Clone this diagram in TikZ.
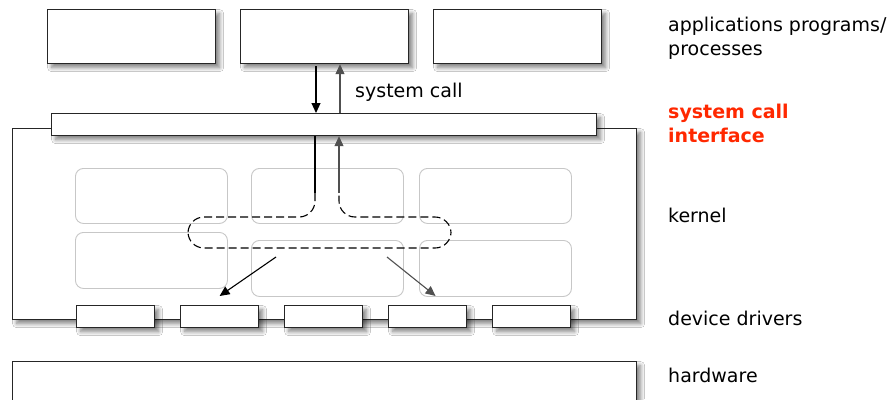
\documentclass[tikz,border=0pt]{standalone}
\usepackage{fontspec}
\setmainfont{DejaVu Sans}
\usetikzlibrary{arrows.meta,shadows.blur,calc}
\definecolor{redlab}{RGB}{255,40,0}
\definecolor{darkarr}{RGB}{80,80,80}
\begin{document}
\begin{tikzpicture}[x=1pt,y=-1pt,
  box/.style={draw=black!85, line width=1.2pt, fill=white, inner sep=0pt, anchor=north west,
    blur shadow={shadow xshift=4pt, shadow yshift=-4pt, shadow blur steps=10, shadow blur radius=4pt, shadow opacity=50}},
  innerbox/.style={draw=black!22, line width=0.9pt, rounded corners=8pt, inner sep=0pt, anchor=north west,
    minimum width=152pt},
  drv/.style={box, minimum width=78pt, minimum height=22pt},
  arr/.style={line width=1.1pt, -{Triangle[length=10pt,width=9pt]}},
  garr/.style={line width=1.1pt, draw=darkarr, -{Triangle[length=10pt,width=9pt,fill=darkarr]}},
  lab/.style={font=\fontsize{19}{24}\selectfont, inner sep=0pt, anchor=base west, align=left},
]
\fill[white] (0,0) rectangle (891,399);
\useasboundingbox (0,0) rectangle (891,399);

% application boxes
\node[box, minimum width=168pt, minimum height=54pt] (app1) at (47,9) {};
\node[box, minimum width=168pt, minimum height=54pt] (app2) at (240,9) {};
\node[box, minimum width=168pt, minimum height=54pt] (app3) at (433,9) {};

% kernel frame
\node[box, minimum width=624pt, minimum height=191pt] (kernel) at (12,128) {};

% inner kernel modules
\node[innerbox, minimum height=55pt] (m1) at (75,168) {};
\node[innerbox, minimum height=55pt] (m2) at (251,168) {};
\node[innerbox, minimum height=55pt] (m3) at (419,168) {};
\node[innerbox, minimum height=56pt] (m4) at (75,232) {};
\node[innerbox, minimum height=56pt] (m5) at (251,240) {};
\node[innerbox, minimum height=56pt] (m6) at (419,240) {};

% device drivers
\node[drv] (dd1) at (76,305) {};
\node[drv] (dd2) at (180,305) {};
\node[drv] (dd3) at (284,305) {};
\node[drv] (dd4) at (388,305) {};
\node[drv] (dd5) at (492,305) {};

% system call interface bar
\node[box, minimum width=545pt, minimum height=22pt] (bar) at (51,113) {};

% hardware
\node[box, minimum width=624pt, minimum height=45pt] (hw) at (12,361) {};

% system call arrows
\draw[arr] (316,0 |- app2.south) ++(0,2) -- (316,0 |- bar.north);
\draw[garr] (340,0 |- bar.north) -- (340,0 |- app2.south);
\node[lab] (sc) at (355,97) {system call};

% path through the kernel
\coordinate (pl) at (315,193);
\coordinate (pr) at (339,193);
\draw[line width=1.1pt] (315,0 |- bar.south) -- (pl);
\draw[garr] (pr) -- (339,0 |- bar.south);
\draw[line width=1.1pt, dash pattern=on 8pt off 4pt, rounded corners=16pt]
  (pl) -- (315,217) -- (188,217) -- (188,248) -- (451,248) -- (451,217) -- (339,217) -- (pr);

\coordinate (sl) at (276,257);
\coordinate (sr) at (387,257);
\draw[arr] (sl) -- ($(dd2.north)+(0,-9)$);
\draw[garr] (sr) -- ($(dd4.north)+(8,-9)$);

% labels
\node[lab] (l1) at (668,55) {applications programs/\\processes};
\node[lab, text=redlab, font=\fontsize{19}{24}\selectfont\bfseries] (l2) at (668,142) {system call\\interface};
\node[lab] (l3) at (668,222) {kernel};
\node[lab] (l4) at (668,325) {device drivers};
\node[lab] (l5) at (668,382) {hardware};
\end{tikzpicture}
\end{document}
